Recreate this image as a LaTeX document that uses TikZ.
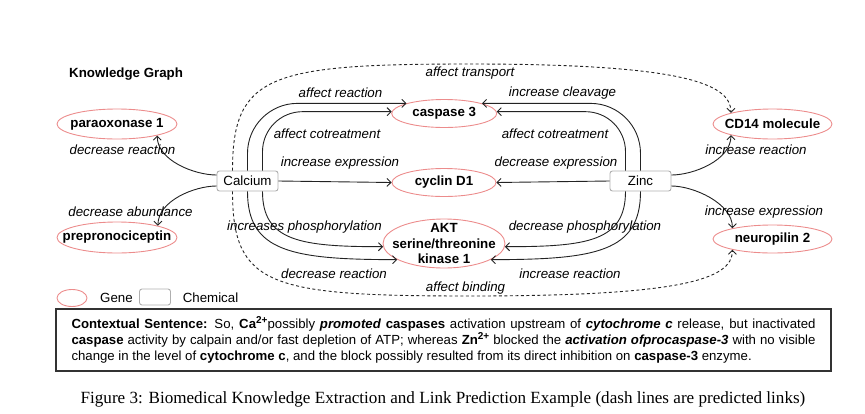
\documentclass[tikz,border=0pt]{standalone}
\usepackage{fontspec}
\setmainfont{Liberation Sans}
\newfontfamily\capfont{Liberation Serif}
\usetikzlibrary{shapes.geometric,arrows.meta}
\definecolor{genered}{RGB}{236,140,140}
\definecolor{chemgray}{RGB}{175,175,175}
\definecolor{edgecol}{RGB}{35,35,35}
\newcommand{\supion}[1]{\raisebox{0.42em}{\fontsize{10}{10}\selectfont\bfseries #1}}
\begin{document}
\begin{tikzpicture}[x=1pt,y=-1pt,
  every node/.style={font=\fontsize{13.3}{16}\selectfont, inner sep=0pt},
  gene/.style={ellipse, draw=genered, line width=0.9pt, inner sep=0pt},
  genetext/.style={font=\fontsize{13.3}{15.5}\selectfont\bfseries, align=center},
  chem/.style={rectangle, rounded corners=2.5pt, draw=chemgray, line width=0.9pt, minimum width=61pt, minimum height=20pt},
  rel/.style={draw=edgecol, line width=0.9pt, -{Straight Barb[length=4pt,width=8pt]}},
  pred/.style={rel, dash pattern=on 3pt off 2.5pt},
  lab/.style={font=\fontsize{13.3}{16}\selectfont\itshape},
  ctxbox/.style={draw=black!80, line width=1.1pt, text width=744pt, minimum width=775pt, minimum height=62pt, align=justify, font=\fontsize{13.2}{16}\selectfont}
]
\useasboundingbox (0,0) rectangle (865,413);

% title
\node[font=\fontsize{13.3}{16}\selectfont\bfseries, anchor=west] (kg) at (69,74) {Knowledge Graph};

% chemicals
\node[chem] (cal) at (247.5,181) {Calcium};
\node[chem] (zin) at (640.5,181) {Zinc};

% genes
\node[gene, minimum width=120pt, minimum height=30pt] (par) at (117,124) {};
\node[genetext] (part) at (par) {paraoxonase 1};
\node[gene, minimum width=120pt, minimum height=31pt] (pre) at (117,237.5) {};
\node[genetext] (pret) at (pre) {prepronociceptin};
\node[gene, minimum width=105pt, minimum height=28pt] (ca3) at (444.2,113.5) {};
\node[genetext] (ca3t) at (ca3) {caspase 3};
\node[gene, minimum width=104pt, minimum height=28pt] (cyc) at (444,182.5) {};
\node[genetext] (cyct) at (cyc) {cyclin D1};
\node[gene, minimum width=122pt, minimum height=49pt] (akt) at (444,243.5) {};
\node[genetext] (aktt) at (akt) {AKT\\serine/threonine\\kinase 1};
\node[gene, minimum width=119pt, minimum height=30pt] (cd) at (772.5,124) {};
\node[genetext] (cdt) at (cd) {CD14 molecule};
\node[gene, minimum width=119pt, minimum height=28pt] (neu) at (772.5,239) {};
\node[genetext] (neut) at (neu) {neuropilin 2};

% coordinates for predicted links
\coordinate (tt) at (470,64);
\coordinate (tb) at (470,296);

% solid relations: calcium
\draw[rel, rounded corners=50pt] (cal.north) |- (ca3.165);
\draw[rel, rounded corners=40pt] ([xshift=15pt]cal.north) |- (ca3.178);
\draw[rel] (cal.east) -- (cyc.west);
\draw[rel] ([xshift=15pt]cal.south) .. controls +(0,50) and +(-82,0) .. (akt.183);
\draw[rel] (cal.south) .. controls +(0,60) and +(-106,0) .. (akt.199);
\draw[rel] ([yshift=6pt]cal.west) .. controls +(-22,0) and +(0,25) .. (par.344);
\draw[rel] ([yshift=-5pt]cal.west) .. controls +(-22,0) and +(0,-25) .. (pre.16);

% solid relations: zinc
\draw[rel, rounded corners=50pt] (zin.north) |- (ca3.15);
\draw[rel, rounded corners=40pt] ([xshift=-15pt]zin.north) |- (ca3.2);
\draw[rel] (zin.west) -- (cyc.east);
\draw[rel] ([xshift=-15pt]zin.south) .. controls +(0,50) and +(82,0) .. (akt.357);
\draw[rel] (zin.south) .. controls +(0,60) and +(106,0) .. (akt.341);
\draw[rel] ([yshift=6pt]zin.east) .. controls +(22,0) and +(0,25) .. (cd.195);
\draw[rel] ([yshift=-5pt]zin.east) .. controls +(22,0) and +(0,-25) .. (neu.165);

% predicted relations
\draw[pred] ([xshift=-15pt]cal.north) .. controls +(0,-96) and +(-200,0) .. (tt) .. controls +(210,0) and +(0,-30) .. (cd.165);
\draw[pred] ([xshift=-15pt]cal.south) .. controls +(0,95) and +(-200,0) .. (tb) .. controls +(210,0) and +(0,30) .. (neu.195);

% edge labels
\node[lab] (l1) at (470,73) {affect transport};
\node[lab] (l2) at (340.5,93) {affect reaction};
\node[lab] (l3) at (562.5,93) {increase cleavage};
\node[lab] (l4) at (327,134) {affect cotreatment};
\node[lab] (l5) at (555,134) {affect cotreatment};
\node[lab] (l6) at (340,163) {increase expression};
\node[lab] (l7) at (556,163) {decrease expression};
\node[lab] (l8) at (304.5,227) {increases phosphorylation};
\node[lab] (l9) at (585,227) {decrease phosphorylation};
\node[lab] (l10) at (334,274) {decrease reaction};
\node[lab] (l11) at (570,274) {increase reaction};
\node[lab] (l12) at (465.5,288) {affect binding};
\node[lab] (l13) at (122.5,150) {decrease reaction};
\node[lab] (l14) at (130.5,212) {decrease abundance};
\node[lab] (l15) at (756,150) {increase reaction};
\node[lab] (l16) at (764,212) {increase expression};

% legend
\node[gene, minimum width=30pt, minimum height=17pt] (lg) at (72,298) {};
\node (lgt) at (116.5,298) {Gene};
\node[chem, minimum width=31pt, minimum height=16pt] (lc) at (155,297) {};
\node (lct) at (210.5,298) {Chemical};

% context sentence
\node[ctxbox] (ctx) at (443.5,340) {\textbf{Contextual Sentence:} So, \textbf{Ca}\supion{2+}possibly \textbf{\textit{promoted}} \textbf{caspases} activation upstream of \textbf{\textit{cytochrome c}} release, but inactivated\linebreak
\textbf{caspase} activity by calpain and/or fast depletion of ATP; whereas \textbf{Zn}\supion{2+} blocked the \textbf{\textit{activation ofprocaspase-3}} with no visible\linebreak
change in the level of \textbf{cytochrome c}, and the block possibly resulted from its direct inhibition on \textbf{caspase-3} enzyme.};

% caption
\node[font=\capfont\fontsize{17.1}{19}\selectfont] (cap) at (443,399) {Figure 3: Biomedical Knowledge Extraction and Link Prediction Example (dash lines are predicted links)};
\end{tikzpicture}
\end{document}
